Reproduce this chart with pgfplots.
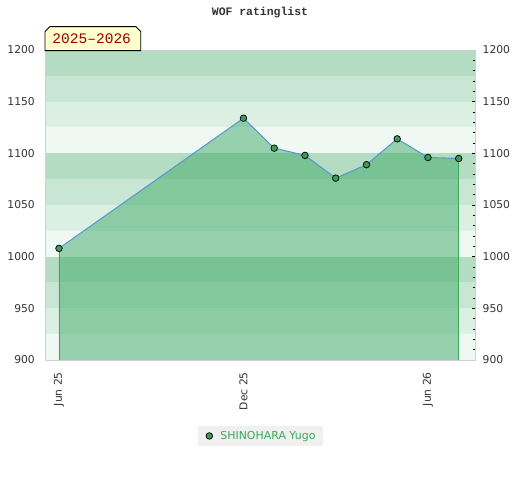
\documentclass[border=0pt]{standalone}
\usepackage{pgfplots}
\pgfplotsset{compat=1.18}
\usepackage{fontspec}
\setmainfont{DejaVu Sans}
\newfontfamily\monofont{Liberation Mono}
\definecolor{bandA}{HTML}{B3DCC2}
\definecolor{bandB}{HTML}{C8E6D3}
\definecolor{bandC}{HTML}{DCEFE3}
\definecolor{bandD}{HTML}{F0F8F3}
\definecolor{fillc}{HTML}{3FA966}
\definecolor{edgec}{HTML}{3AAA5A}
\definecolor{linec}{HTML}{5B9BD5}
\definecolor{markc}{HTML}{3A9A5A}
\definecolor{txt}{HTML}{333333}
\definecolor{frame}{HTML}{D0D0D0}
\definecolor{legbg}{HTML}{F0F0F0}
\definecolor{darkred}{HTML}{990000}
\definecolor{boxy}{HTML}{FFFFCC}
\pgfplotstableread{
x y
0 1008
6 1134
7 1105
8 1098
9 1076
10 1089
11 1114
12 1096
13 1095
}\ratings
\pgfplotstableread{
x y
0 1008
13 1095
}\edges
\begin{document}
\begin{tikzpicture}[x=1bp,y=1bp]
\useasboundingbox (0,0) rectangle (520,480);
\begin{axis}[
  at={(45bp,120bp)}, anchor=south west,
  scale only axis, width=430bp, height=310bp,
  xmin=-0.455, xmax=13.53, ymin=900, ymax=1200,
  axis line style={draw=none},
  xtick={0,6,12}, xticklabels={Jun 25,Dec 25,Jun 26},
  ytick={900,950,...,1200},
  major tick length=0pt,
  tick pos=left,
  /pgf/number format/assume math mode=true,
  /pgf/number format/1000 sep={},
  xticklabel style={rotate=90, anchor=east, inner sep=0pt, font=\fontsize{10.8}{12}\selectfont, text=txt},
  yticklabel style={anchor=east, inner sep=0pt, font=\fontsize{10.8}{12}\selectfont, text=txt},
  xticklabel shift=12bp,
  yticklabel shift=10bp,
  legend style={at={(0.501,-0.245)}, anchor=center, fill=legbg, draw=none,
    inner xsep=5bp, inner ysep=3.5bp, font=\fontsize{11}{12}\selectfont,
    nodes={inner sep=2bp}},
  legend image code/.code={\node[draw=none, fill=none, inner sep=0pt, minimum width=15bp, minimum height=6bp] at (1.5bp,0bp) {};
    \draw[mark=*, mark size=3.3bp, mark options={fill=markc, draw=black, line width=0.7bp}] plot coordinates {(0bp,0bp)};},
]
\fill[bandA] (axis cs:-1,1175) rectangle (axis cs:14,1200);
\fill[bandB] (axis cs:-1,1150) rectangle (axis cs:14,1175);
\fill[bandC] (axis cs:-1,1125) rectangle (axis cs:14,1150);
\fill[bandD] (axis cs:-1,1100) rectangle (axis cs:14,1125);
\fill[bandA] (axis cs:-1,1075) rectangle (axis cs:14,1100);
\fill[bandB] (axis cs:-1,1050) rectangle (axis cs:14,1075);
\fill[bandC] (axis cs:-1,1025) rectangle (axis cs:14,1050);
\fill[bandD] (axis cs:-1,1000) rectangle (axis cs:14,1025);
\fill[bandA] (axis cs:-1,975) rectangle (axis cs:14,1000);
\fill[bandB] (axis cs:-1,950) rectangle (axis cs:14,975);
\fill[bandC] (axis cs:-1,925) rectangle (axis cs:14,950);
\fill[bandD] (axis cs:-1,900) rectangle (axis cs:14,925);
\addplot[draw=none, fill=fillc, fill opacity=0.5, forget plot] table[x=x,y=y] {\ratings} \closedcycle;
\addplot[ycomb, draw=edgec, line width=0.9bp, forget plot] table[x=x,y=y] {\edges};
\addplot[draw=linec, line width=1.1bp, forget plot] table[x=x,y=y] {\ratings};
\addplot[only marks, mark=*, mark size=3.3bp, mark options={fill=markc, draw=black, line width=0.7bp}] table[x=x,y=y] {\ratings};
\addlegendentry[text=edgec]{SHINOHARA Yugo}
\end{axis}
\begin{axis}[
  at={(45bp,120bp)}, anchor=south west,
  scale only axis, width=430bp, height=310bp,
  xmin=-0.455, xmax=13.53, ymin=900, ymax=1200,
  axis line style={draw=frame, line width=0.9bp},
  xtick=\empty,
  ytick={900,950,...,1200}, minor ytick={910,920,...,1190},
  ytick pos=right, tick align=inside,
  major tick length=3.5bp, minor tick length=2.2bp,
  tick style={color=black, line width=0.7bp},
  /pgf/number format/assume math mode=true,
  /pgf/number format/1000 sep={},
  yticklabel style={anchor=west, inner sep=0pt, font=\fontsize{10.8}{12}\selectfont, text=txt},
  yticklabel shift=7.5bp,
]
\end{axis}
\node[font=\monofont\bfseries\fontsize{11.5}{12}\selectfont, text=txt] at (260,467) {WOF ratinglist};
\draw[fill=boxy, draw=black, line width=0.9bp] (45,429.3) -- (140.7,429.3) -- (140.7,448.5) -- (136,453.3) -- (49.7,453.3) -- (45,448.5) -- cycle;
\node[font=\monofont\fontsize{14.6}{16}\selectfont, text=darkred] at (91.7,440.8) {2025–2026};
\end{tikzpicture}
\end{document}
